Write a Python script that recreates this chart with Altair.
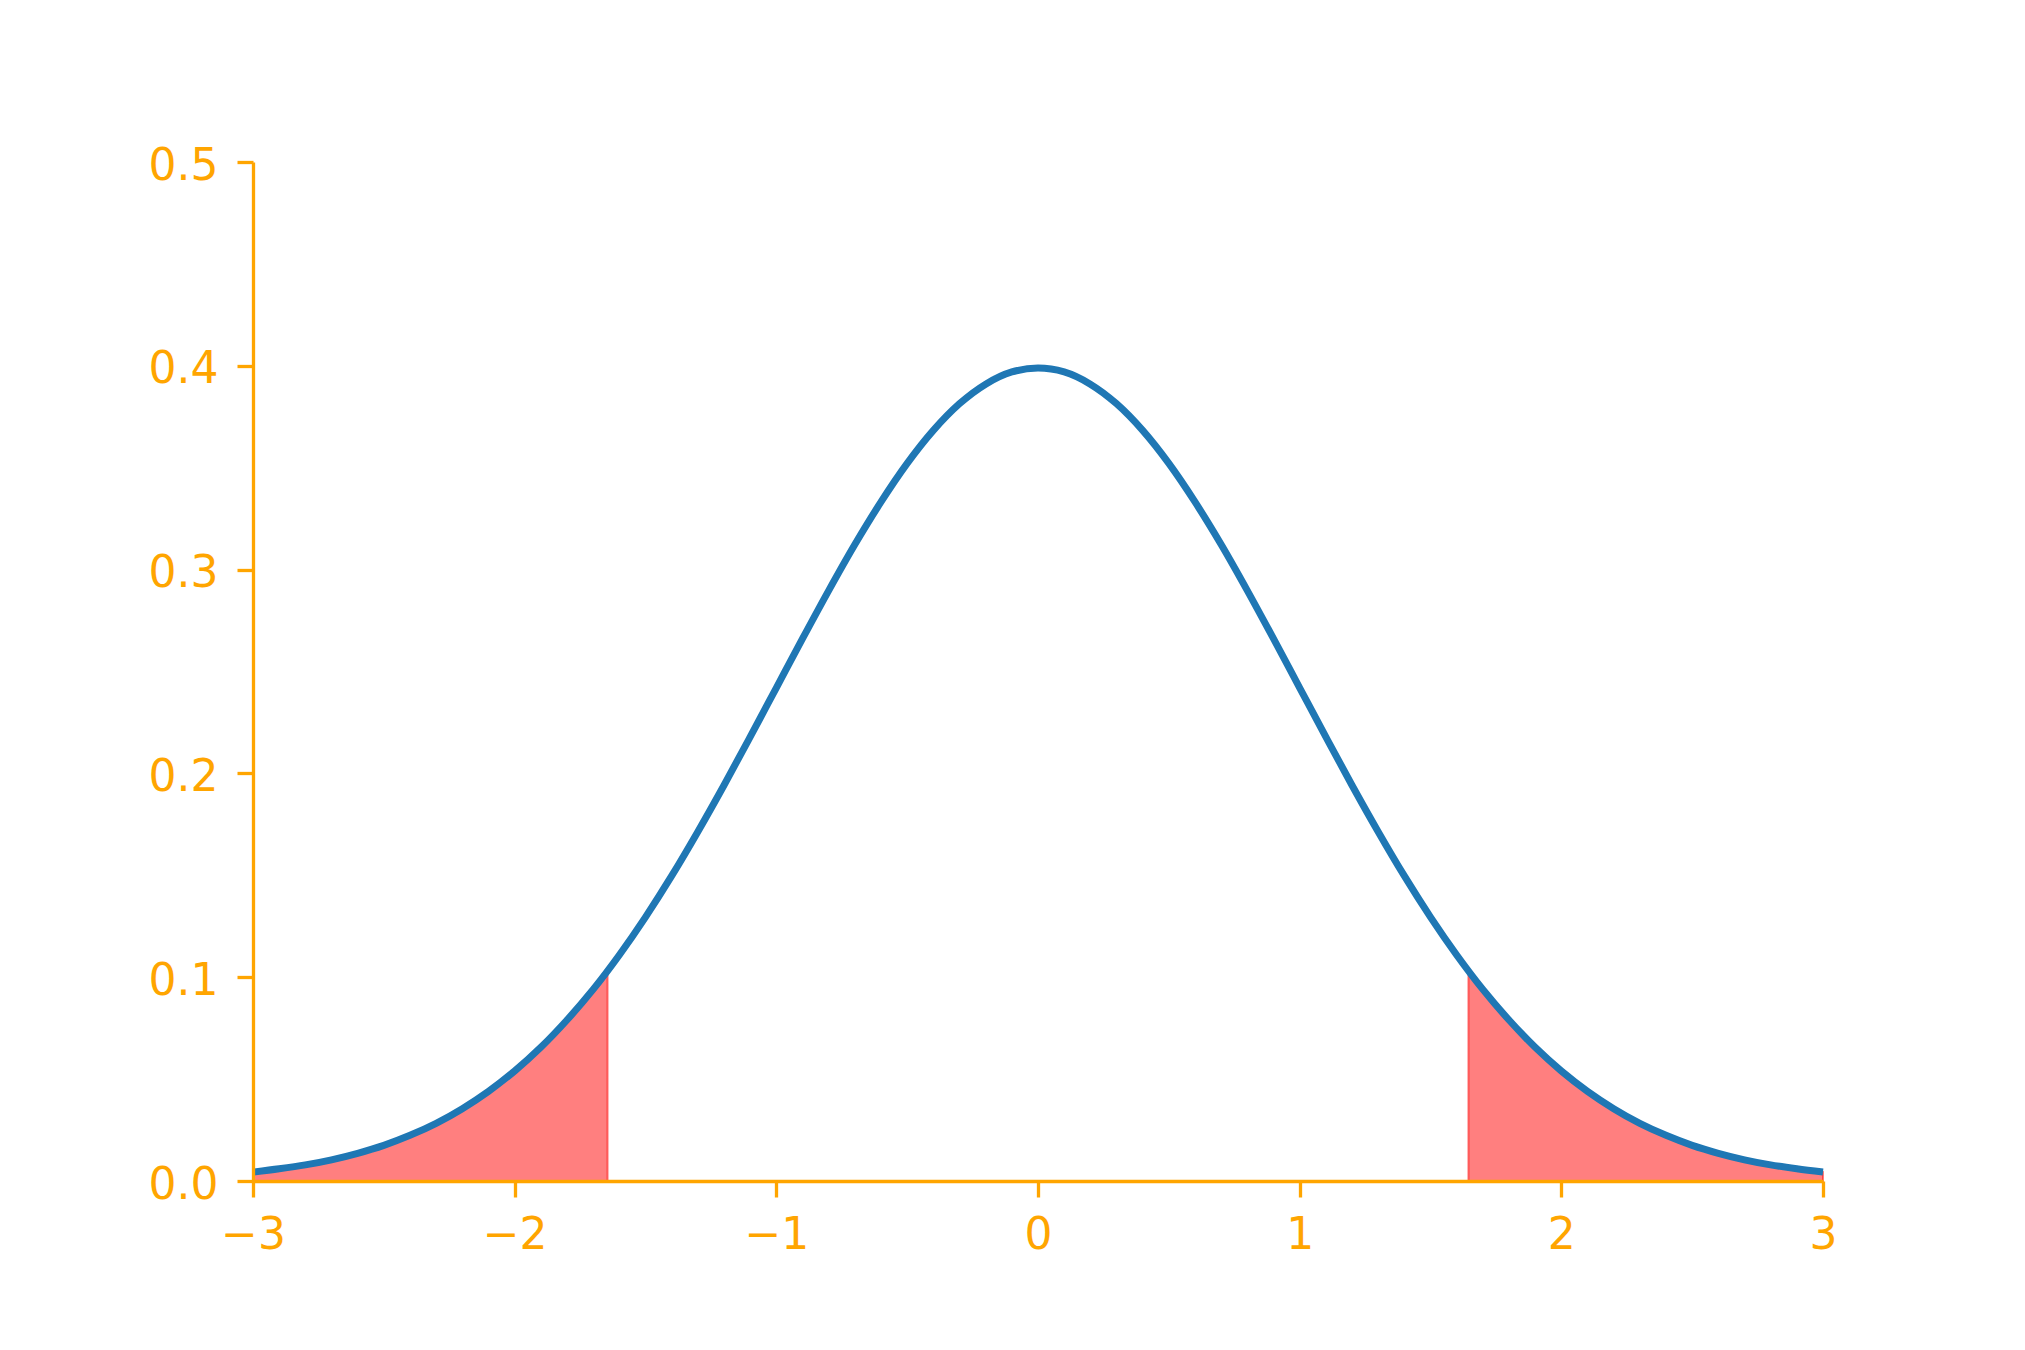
import altair as alt
import pandas as pd

# sample positions along the x axis and the density
X_VALUES = [-3.0, -2.9, -2.8, -2.7, -2.6, -2.5, -2.4, -2.3, -2.2, -2.1,
            -2.0, -1.9, -1.8, -1.7, -1.6, -1.5, -1.4, -1.3, -1.2, -1.1,
            -1.0, -0.9, -0.8, -0.7, -0.6, -0.5, -0.4, -0.3, -0.2, -0.1,
            0.0, 0.1, 0.2, 0.3, 0.4, 0.5, 0.6, 0.7, 0.8, 0.9,
            1.0, 1.1, 1.2, 1.3, 1.4, 1.5, 1.6, 1.7, 1.8, 1.9,
            2.0, 2.1, 2.2, 2.3, 2.4, 2.5, 2.6, 2.7, 2.8, 2.9, 3.0]
DENSITY = [0.0044, 0.0060, 0.0079, 0.0104, 0.0136, 0.0175, 0.0224, 0.0283, 0.0355, 0.0440,
           0.0540, 0.0656, 0.0790, 0.0940, 0.1109, 0.1295, 0.1497, 0.1714, 0.1942, 0.2179,
           0.2420, 0.2661, 0.2897, 0.3123, 0.3332, 0.3521, 0.3683, 0.3814, 0.3910, 0.3970,
           0.3989, 0.3970, 0.3910, 0.3814, 0.3683, 0.3521, 0.3332, 0.3123, 0.2897, 0.2661,
           0.2420, 0.2179, 0.1942, 0.1714, 0.1497, 0.1295, 0.1109, 0.0940, 0.0790, 0.0656,
           0.0540, 0.0440, 0.0355, 0.0283, 0.0224, 0.0175, 0.0136, 0.0104, 0.0079, 0.0060, 0.0044]

# critical value bounding the shaded tails, and the curve height there
CRIT_X = 1.645
CRIT_Y = 0.1031

X_TICKS = [-3, -2, -1, 0, 1, 2, 3]
Y_TICKS = [0.0, 0.1, 0.2, 0.3, 0.4, 0.5]

curve = pd.DataFrame({"x": X_VALUES, "y": DENSITY})

left_rows = [{"x": x, "y": y, "tail": "left"} for x, y in zip(X_VALUES, DENSITY) if x <= -CRIT_X]
left_rows.append({"x": -CRIT_X, "y": CRIT_Y, "tail": "left"})
right_rows = [{"x": CRIT_X, "y": CRIT_Y, "tail": "right"}]
right_rows += [{"x": x, "y": y, "tail": "right"} for x, y in zip(X_VALUES, DENSITY) if x >= CRIT_X]
tails = pd.DataFrame(left_rows + right_rows)

ORANGE = "#FFA500"
BLUE = "#1f77b4"

common_axis = dict(
    domainColor=ORANGE, tickColor=ORANGE, labelColor=ORANGE,
    domainWidth=3.3, tickWidth=3.3, tickSize=16,
    labelFont="DejaVu Sans", labelFontSize=44, labelFontWeight="normal",
    grid=False, title=None, zindex=1, labelFlush=False, labelOverlap=False,
)
x_axis = alt.Axis(values=X_TICKS, format="d", labelPadding=16, **common_axis)
y_axis = alt.Axis(values=Y_TICKS, format=".1f", labelPadding=19, labelOffset=4, **common_axis)

x_scale = alt.Scale(domain=[-3, 3], nice=False, zero=False)
y_scale = alt.Scale(domain=[0, 0.5], nice=False)

area = alt.Chart(tails).mark_area(
    fill="red", fillOpacity=0.5, stroke="red", strokeOpacity=0.5, strokeWidth=2,
    interpolate="monotone",
).encode(
    x=alt.X("x:Q", scale=x_scale, axis=x_axis),
    y=alt.Y("y:Q", scale=y_scale, axis=y_axis, stack=None),
    detail="tail:N",
)

line = alt.Chart(curve).mark_line(color=BLUE, strokeWidth=7, interpolate="monotone").encode(
    x=alt.X("x:Q", scale=x_scale, axis=x_axis),
    y=alt.Y("y:Q", scale=y_scale, axis=y_axis),
    order="x:Q",
)

chart = alt.layer(area, line).properties(
    width=1570,
    height=1019,
    autosize=alt.AutoSizeParams(type="none"),
    padding={"left": 245, "top": 154, "right": 190, "bottom": 160},
    background="white",
).configure_view(stroke=None)

chart.save("out.html", embed_options={"renderer": "svg", "actions": False})
